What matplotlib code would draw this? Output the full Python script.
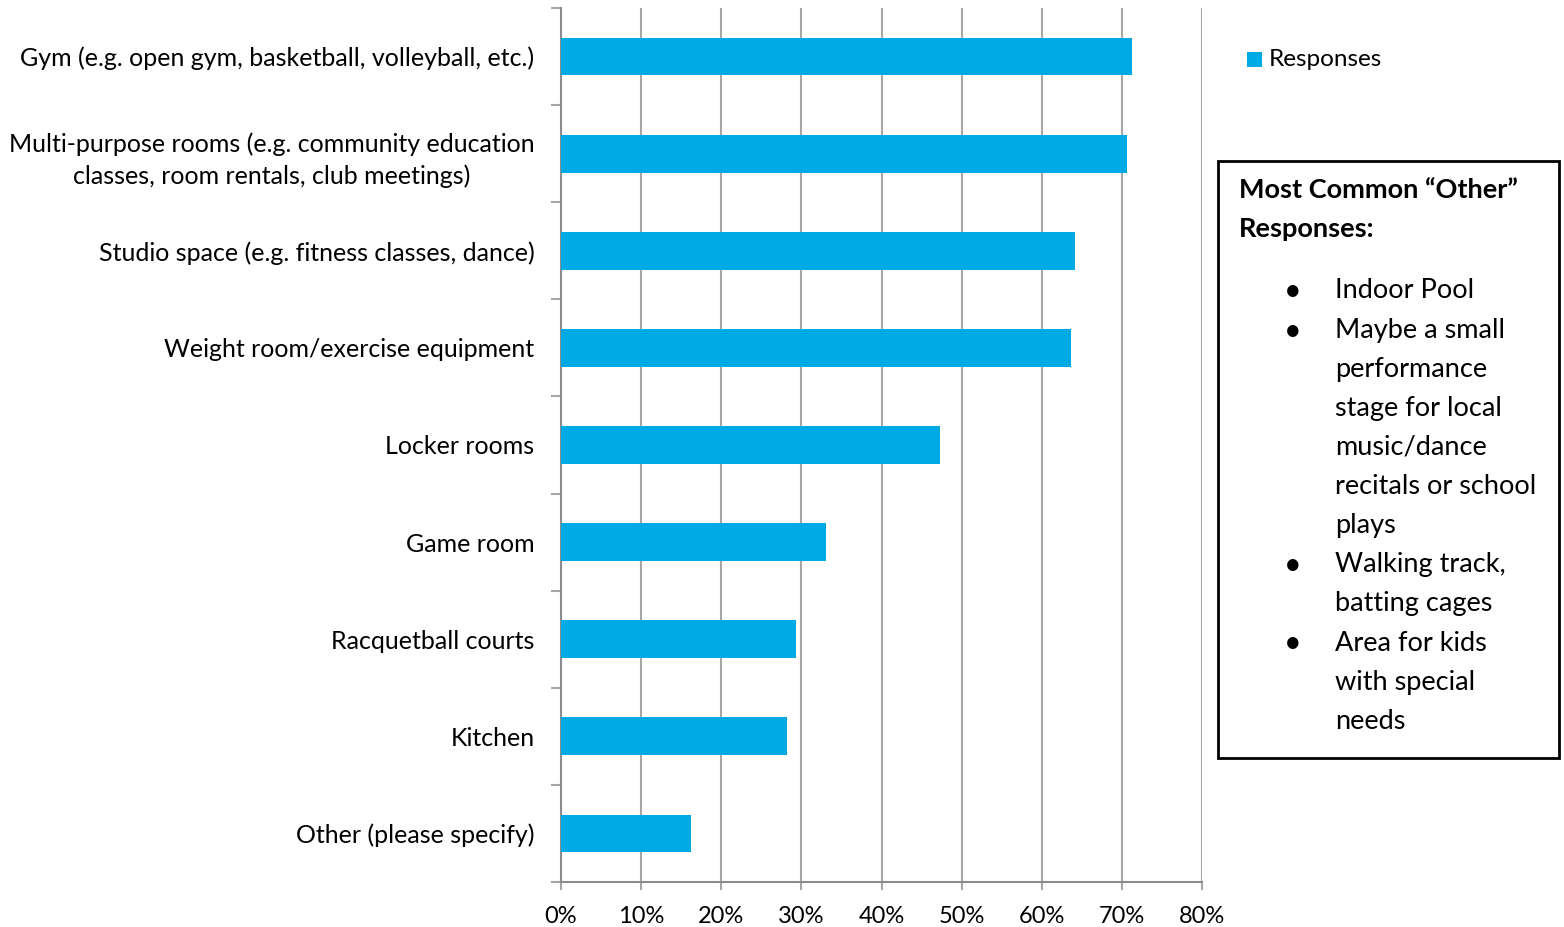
import matplotlib
matplotlib.use("Agg")
import matplotlib.pyplot as plt
import numpy as np
from matplotlib.patches import Rectangle

categories = [
    "Gym (e.g. open gym, basketball, volleyball, etc.)",
    "Multi-purpose rooms (e.g. community education\nclasses, room rentals, club meetings)",
    "Studio space (e.g. fitness classes, dance)",
    "Weight room/exercise equipment",
    "Locker rooms",
    "Game room",
    "Racquetball courts",
    "Kitchen",
    "Other (please specify)",
]
values = [71.3, 70.7, 64.2, 63.7, 47.3, 33.1, 29.3, 28.2, 16.2]
xticks = [0, 10, 20, 30, 40, 50, 60, 70, 80]
xticklabels = [f"{t}%" for t in xticks]

box_title = ["Most Common \u201cOther\u201d", "Responses:"]
box_items = [
    ["Indoor Pool"],
    ["Maybe a small", "performance", "stage for local", "music/dance", "recitals or school", "plays"],
    ["Walking track,", "batting cages"],
    ["Area for kids", "with special", "needs"],
]

plt.rcParams['font.family'] = ['Lato', 'DejaVu Sans']

W, H = 1564, 927
fig = plt.figure(figsize=(W / 100, H / 100), dpi=100)
ax = fig.add_axes([561 / W, 1 - 882 / H, (1202 - 561) / W, (882 - 8) / H])

n = len(categories)
ypos = np.arange(n)
bar_color = "#00AAE4"
ax.barh(ypos, values, height=0.39, color=bar_color, zorder=3, label="Responses")
ax.set_ylim(n - 0.5, -0.5)
ax.set_xlim(0, 80)

grid_color = "#A6A6A6"
ax.set_xticks(xticks)
ax.set_xticklabels(xticklabels, fontsize=17, color="black")
ax.xaxis.grid(True, color=grid_color, linewidth=1.5, zorder=0)
ax.tick_params(axis="x", length=6, width=1.5, color=grid_color, pad=11)

ax.set_yticks(ypos)
ylabels = ax.set_yticklabels(categories, fontsize=18, linespacing=1.47)
for lab in ylabels:
    lab.set_multialignment("center")
ax.tick_params(axis="y", which="major", length=0, pad=19)
ax.set_yticks(np.arange(-0.5, n + 0.5, 1), minor=True)
ax.tick_params(axis="y", which="minor", length=7, width=1.5, color=grid_color)

for s in ["top", "right"]:
    ax.spines[s].set_visible(False)
for s in ["left", "bottom"]:
    ax.spines[s].set_color("#8C8C8C")
    ax.spines[s].set_linewidth(1.5)


def fx(x):
    return x / W


def fy(y):
    return 1 - y / H


# legend
fig.patches.append(Rectangle((fx(1247), fy(67)), 15 / W, 15 / H, transform=fig.transFigure,
                             facecolor=bar_color, edgecolor="none"))
fig.text(fx(1269), fy(59), "Responses", fontsize=17.5, va="center", ha="left")

# text box
fig.patches.append(Rectangle((fx(1218), fy(758)), (1559 - 1218) / W, (758 - 161) / H,
                             transform=fig.transFigure, facecolor="white",
                             edgecolor="black", linewidth=2))
fig.text(fx(1239), fy(190), box_title[0], fontsize=19.5, fontweight="bold",
         va="center", ha="left")
fig.text(fx(1239), fy(229), box_title[1], fontsize=19.5, fontweight="bold",
         va="center", ha="left")

y = 291
step = 38.9
for item in box_items:
    fig.text(fx(1293), fy(y), "\u2022", fontsize=22, va="center", ha="center")
    for line in item:
        fig.text(fx(1335), fy(y), line, fontsize=19.5, va="center", ha="left")
        y += step
    y += 0.8

fig.savefig("out.png", dpi=100)
